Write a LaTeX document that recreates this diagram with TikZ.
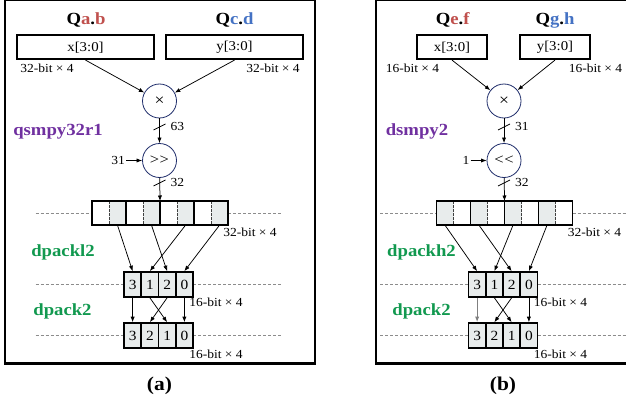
\documentclass[tikz,border=0pt]{standalone}
\usepackage{fontspec}
\setmainfont{Liberation Serif}[FakeStretch=1.1]
\usetikzlibrary{arrows.meta}
\definecolor{qred}{HTML}{C0504D}
\definecolor{qblue}{HTML}{4472C4}
\definecolor{qpurple}{HTML}{7030A0}
\definecolor{qgreen}{HTML}{11994F}
\definecolor{cellgray}{HTML}{E8ECEC}
\definecolor{opnavy}{HTML}{1F2D6B}
\definecolor{guidegray}{HTML}{8C8C8C}
\newcommand{\fsz}[1]{\fontsize{#1}{#1}\selectfont}

\tikzset{
  frame/.style={line width=2.4pt},
  inbox/.style={draw, line width=1.6pt, minimum height=24pt, inner sep=0pt, font=\fsz{13.5}},
  title/.style={font=\fsz{17}\bfseries, inner sep=0pt, anchor=base},
  note/.style={font=\fsz{12.3}, inner sep=0pt},
  instr/.style={font=\fsz{17}\bfseries, inner sep=0pt, anchor=base},
  opnode/.style={circle, draw=opnavy, line width=0.8pt, minimum size=34pt, inner sep=0pt},
  conn/.style={line width=0.75pt, -{Latex[length=5.5pt,width=4.2pt]}},
  slash/.style={line width=0.75pt},
  guide/.style={draw=guidegray, line width=0.5pt, dash pattern=on 3pt off 2pt},
  half/.style={minimum width=17pt, minimum height=24pt, inner sep=0pt},
  divider/.style={draw=black!75, line width=0.6pt, dash pattern=on 2.5pt off 1.5pt},
  regline/.style={line width=1.7pt},
  cell/.style={draw, line width=1.6pt, fill=cellgray, minimum width=17.25pt, minimum height=25pt, inner sep=0pt, font=\fsz{14}},
}

% #1 prefix, #2 op symbol, #3 width label, #4 input label,
% #5 shaded half offset, #6 plain half offset, #7 style of first lower arrow
\newcommand{\lowerpart}[7]{%
  \node[opnode] (#1-mul) at (159.5,101) {\fsz{16}×};
  \node[opnode] (#1-sh) at (159.5,160.5) {\fsz{15}#2};
  \draw[conn] (#1-mul) -- (#1-sh);
  \draw[slash] (159.5,127) ++(-6,3) -- ++(12,-6);
  \node[note, anchor=base west] (#1-w1) at (170.5,130) {#3};
  \node[note, anchor=east, inner sep=1pt] (#1-in) at (126,160.5) {#4};
  \draw[conn] (#1-in) -- (#1-sh);
  \coordinate (#1-rt) at (160,201);
  \draw[conn] (#1-sh) -- (#1-rt);
  \draw[slash] (159.5,183) ++(-6,3) -- ++(12,-6);
  \node[note, anchor=base west] (#1-w2) at (170.5,186.5) {32};
  \draw[guide] (35.5,213) -- (92,213) (228,213) -- (282,213);
  \foreach \g in {1,2,3,4} {
    \node[half, fill=cellgray] (#1-s\g) at ({92+34*(\g-1)+#5},213) {};
    \node[half] (#1-n\g) at ({92+34*(\g-1)+#6},213) {};
    \draw[divider] ({92+34*(\g-1)+17},201) -- ++(0,24);
    \draw[regline] ({92+34*(\g-1)},201) rectangle ++(34,24);
  }
  \node[note, anchor=base] (#1-rl) at (250,236.5) {32-bit × 4};
  \draw[guide] (35.5,284.5) -- (124,284.5) (193,284.5) -- (282,284.5);
  \draw[guide] (35.5,335.5) -- (124,335.5) (193,335.5) -- (282,335.5);
  \foreach \t [count=\i] in {3,1,2,0} {
    \node[cell] (#1-t\i) at ({124+17.25*(\i-0.5)},284.5) {\t};
  }
  \foreach \t [count=\i] in {3,2,1,0} {
    \node[cell] (#1-u\i) at ({124+17.25*(\i-0.5)},335.5) {\t};
  }
  \draw[conn] (#1-s1.south) -- (#1-t1.north);
  \draw[conn] (#1-s2.south) -- (#1-t3.north);
  \draw[conn] (#1-s3.south) -- (#1-t2.north);
  \draw[conn] (#1-s4.south) -- (#1-t4.north);
  \draw[conn, #7] (#1-t1.south) -- (#1-u1.north);
  \draw[conn] (#1-t2.south) -- (#1-u3.north);
  \draw[conn] (#1-t3.south) -- (#1-u2.north);
  \draw[conn] (#1-t4.south) -- (#1-u4.north);
  \node[note, anchor=base] (#1-l1) at (216,306.5) {16-bit × 4};
  \node[note, anchor=base] (#1-l2) at (216,358.5) {16-bit × 4};
}

\begin{document}
\begin{tikzpicture}[x=1pt,y=-1pt]
\useasboundingbox (0,0) rectangle (626,404);
\clip (0,0) rectangle (626,404);
\fill[white] (0,0) rectangle (626,404);

% ---------- panel (a)
\draw[frame] (5,0.3) rectangle (315,363.5);
\node[title] (a-t1) at (86,25) {Q\textcolor{qred}{a}.\textcolor{qred}{b}};
\node[title] (a-t2) at (234.5,25) {Q\textcolor{qblue}{c}.\textcolor{qblue}{d}};
\node[inbox, minimum width=137pt] (a-x) at (85.5,47.3) {x[3:0]};
\node[inbox, minimum width=137pt] (a-y) at (234.5,47.3) {y[3:0]};
\node[note, anchor=base] (a-xl) at (47,72.5) {32-bit × 4};
\node[note, anchor=base] (a-yl) at (273,72.5) {32-bit × 4};
\lowerpart{a}{{>}\kern0.5pt{>}}{63}{31}{25.5}{8.5}{}
\draw[conn] (a-x.south) -- (a-mul);
\draw[conn] (a-y.south) -- (a-mul);
\node[instr, text=qpurple] (a-i1) at (58,135) {qsmpy32r1};
\node[instr, text=qgreen] (a-i2) at (63,256.5) {dpackl2};
\node[instr, text=qgreen] (a-i3) at (62.5,315) {dpack2};
\node[font=\fsz{19.5}\bfseries, inner sep=0pt, anchor=base] (a-cap) at (159.5,390) {(a)};

% ---------- panel (b)
\draw[frame] (376,0.3) rectangle (633,363.5);
\node[title] (b-t1) at (452.7,25) {Q\textcolor{qred}{e}.\textcolor{qred}{f}};
\node[title] (b-t2) at (555,25) {Q\textcolor{qblue}{g}.\textcolor{qblue}{h}};
\node[inbox, minimum width=70pt] (b-x) at (452,47.3) {x[3:0]};
\node[inbox, minimum width=70pt] (b-y) at (555,47.3) {y[3:0]};
\node[note, anchor=base] (b-xl) at (412.5,72.5) {16-bit × 4};
\node[note, anchor=base] (b-yl) at (595.5,72.5) {16-bit × 4};
\begin{scope}[xshift=344.5pt]
\lowerpart{b}{{<}\kern0.5pt{<}}{31}{1}{8.5}{25.5}{draw=gray, line width=1.2pt}
\end{scope}
\draw[conn] (b-x.south) -- (b-mul);
\draw[conn] (b-y.south) -- (b-mul);
\node[instr, text=qpurple] (b-i1) at (417,135) {dsmpy2};
\node[instr, text=qgreen] (b-i2) at (421.5,256.5) {dpackh2};
\node[instr, text=qgreen] (b-i3) at (421.5,315) {dpack2};
\node[font=\fsz{19.5}\bfseries, inner sep=0pt, anchor=base] (b-cap) at (503,390) {(b)};
\end{tikzpicture}
\end{document}
